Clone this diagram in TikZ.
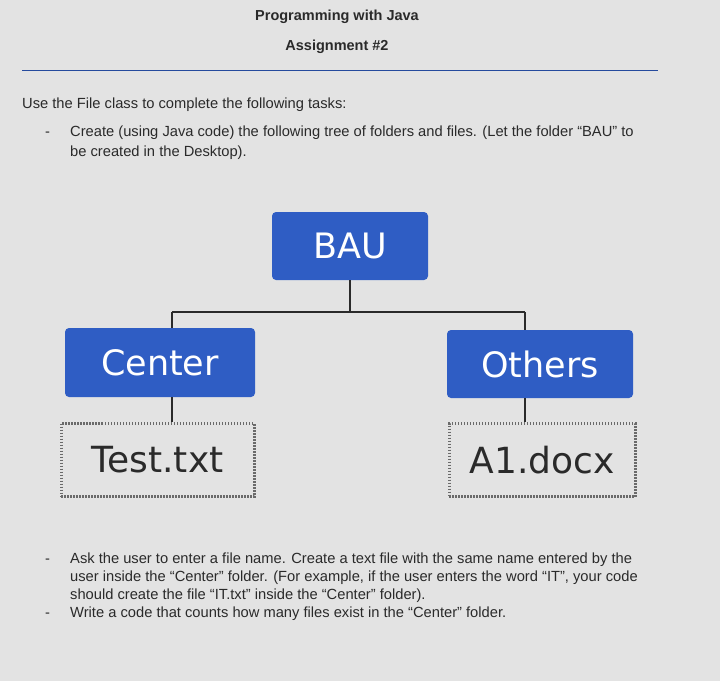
\documentclass[tikz,border=0pt]{standalone}
\usepackage{fontspec}
\setmainfont{Liberation Sans}
\newfontfamily\boxfont{DejaVu Sans}
\definecolor{boxblue}{HTML}{2F5DC4}
\definecolor{bg}{HTML}{E3E3E3}
\definecolor{txt}{HTML}{2A2A2A}
\begin{document}
\begin{tikzpicture}[x=1pt,y=-1pt,
  folder/.style={fill=boxblue,rounded corners=4pt,text=white,font=\boxfont\fontsize{35}{40}\selectfont,inner sep=0pt},
  filebox/.style={draw=txt!70,dash pattern=on 1.5pt off 1.5pt,line width=3pt,text=txt,font=\boxfont\fontsize{36}{40}\selectfont,inner sep=0pt},
  body/.style={anchor=base west,text=txt,font=\fontsize{14.7}{17}\selectfont,inner sep=0pt},
  tree/.style={draw=txt,line width=1.4pt}]
\fill[bg] (0,0) rectangle (720,681);
\useasboundingbox (0,0) rectangle (720,681);
\node[font=\bfseries\fontsize{14.5}{16}\selectfont,text=txt] (t1) at (337,17) {Programming with Java};
\node[font=\bfseries\fontsize{14.5}{16}\selectfont,text=txt] (t2) at (337,47) {Assignment \#2};
\coordinate (l1) at (22,70); \coordinate (l2) at (658,70);
\draw[boxblue!80!black,line width=1pt] (l1) -- (l2);
\node[body] (u) at (22,108) {Use the File class to complete the following tasks:};
\node[body] (d1) at (45,136) {-};
\node[body] (a1) at (70,136) {Create (using Java code) the following tree of folders and files. (Let the folder “BAU” to};
\node[body] (a2) at (70,156) {be created in the Desktop).};
\node[folder,minimum width=156pt,minimum height=68pt] (bau) at (350,246) {BAU};
\node[folder,minimum width=190pt,minimum height=69pt] (center) at (160,362.5) {Center};
\node[folder,minimum width=186pt,minimum height=68pt] (others) at (540,364) {Others};
\node[filebox,minimum width=193pt,minimum height=73pt] (test) at (157.5,460) {Test.txt};
\node[filebox,minimum width=186pt,minimum height=73pt] (a1d) at (542,460) {A1.docx};
\coordinate (j) at (350,312);
\coordinate (jl) at (172,312);
\coordinate (jr) at (525,312);
\draw[tree] (bau.south) -- (j);
\draw[tree] (jl) -- (jr);
\draw[tree] (jl) -- (jl|-center.north);
\draw[tree] (jr) -- (jr|-others.north);
\draw[tree] (center.south-|jl) -- (jl|-test.north);
\draw[tree] (others.south-|jr) -- (jr|-a1d.north);
\node[body] (d2) at (45,563) {-};
\node[body] (b1) at (70,563) {Ask the user to enter a file name. Create a text file with the same name entered by the};
\node[body] (b2) at (70,581) {user inside the “Center” folder. (For example, if the user enters the word “IT”, your code};
\node[body] (b3) at (70,599) {should create the file “IT.txt” inside the “Center” folder).};
\node[body] (d3) at (45,617) {-};
\node[body] (b4) at (70,617) {Write a code that counts how many files exist in the “Center” folder.};
\end{tikzpicture}
\end{document}
